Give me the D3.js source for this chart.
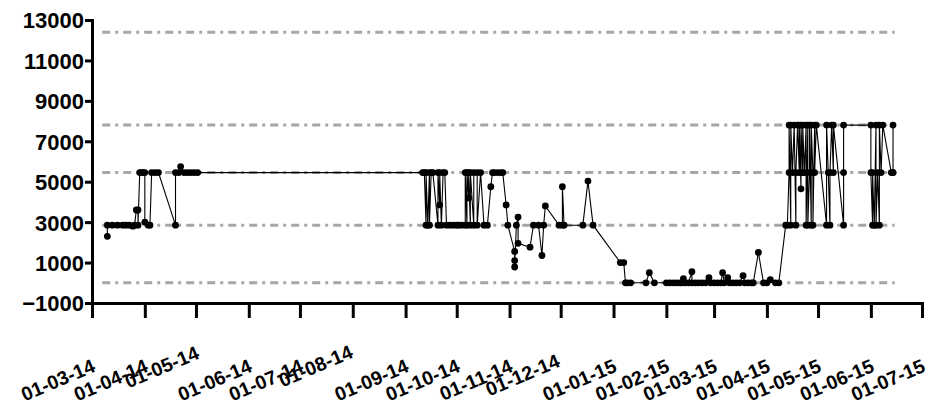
<!DOCTYPE html>
<html>
<head>
<meta charset="utf-8">
<script src="https://cdn.jsdelivr.net/npm/d3@7"></script>
<style>
  html, body { margin: 0; padding: 0; background: #fff; }
  svg { display: block; }
  text { font-family: "Liberation Sans", Arial, sans-serif; font-weight: bold; }
</style>
</head>
<body>
<svg id="chart" width="928" height="407"></svg>
<script>
// ---- data ----
const tickDates = ["2014-03-01","2014-04-01","2014-05-01","2014-06-01","2014-07-01","2014-08-01","2014-09-01","2014-10-01","2014-11-01","2014-12-01","2015-01-01","2015-02-01","2015-03-01","2015-04-01","2015-05-01","2015-06-01","2015-07-01"];
const tickLabels = ["01-03-14","01-04-14","01-05-14","01-06-14","01-07-14","01-08-14","01-09-14","01-10-14","01-11-14","01-12-14","01-01-15","01-02-15","01-03-15","01-04-15","01-05-15","01-06-15","01-07-15"];
const yTicks = [-1000, 1000, 3000, 5000, 7000, 9000, 11000, 13000];
const refValues = [12400, 7800, 5450, 2850, 0];
const refRange = ["2014-03-07", "2015-06-15"];

const dates = [
 "2014-03-10","2014-03-10","2014-03-13","2014-03-16","2014-03-19","2014-03-21","2014-03-23","2014-03-25","2014-03-26","2014-03-27",
 "2014-03-28","2014-03-28","2014-03-29","2014-03-30","2014-03-31","2014-04-01","2014-04-01","2014-04-03","2014-04-04","2014-04-05",
 "2014-04-07","2014-04-09","2014-04-19","2014-04-19","2014-04-21","2014-04-22","2014-04-24","2014-04-26","2014-04-28","2014-04-30",
 "2014-05-02",
 "2014-09-11","2014-09-12","2014-09-13","2014-09-13","2014-09-14","2014-09-15","2014-09-15","2014-09-16","2014-09-17","2014-09-20",
 "2014-09-20","2014-09-21","2014-09-21","2014-09-22","2014-09-23","2014-09-24","2014-09-25","2014-09-27","2014-09-29","2014-10-01",
 "2014-10-02","2014-10-04","2014-10-06","2014-10-06","2014-10-07","2014-10-07","2014-10-08","2014-10-08","2014-10-09","2014-10-09",
 "2014-10-11","2014-10-11","2014-10-13","2014-10-13","2014-10-15","2014-10-17","2014-10-19","2014-10-21","2014-10-22","2014-10-23",
 "2014-10-25","2014-10-27","2014-10-28","2014-10-30","2014-10-31","2014-11-04","2014-11-04","2014-11-04","2014-11-05","2014-11-06",
 "2014-11-06","2014-11-13","2014-11-15","2014-11-18","2014-11-20","2014-11-21","2014-11-22","2014-11-30","2014-12-02","2014-12-02",
 "2014-12-03","2014-12-14","2014-12-17","2014-12-20",
 "2015-01-05","2015-01-07","2015-01-08","2015-01-09","2015-01-11","2015-01-20","2015-01-22","2015-01-25","2015-02-01","2015-02-03",
 "2015-02-05","2015-02-07","2015-02-09","2015-02-10","2015-02-11","2015-02-12","2015-02-14","2015-02-16","2015-02-16","2015-02-18",
 "2015-02-20","2015-02-22","2015-02-24","2015-02-26","2015-02-27","2015-03-01","2015-03-03","2015-03-05","2015-03-06","2015-03-07",
 "2015-03-09","2015-03-10","2015-03-12","2015-03-14","2015-03-16","2015-03-18","2015-03-19","2015-03-21","2015-03-23","2015-03-24",
 "2015-03-27","2015-03-30","2015-04-01","2015-04-03","2015-04-06","2015-04-08",
 "2015-04-12","2015-04-13","2015-04-14","2015-04-14","2015-04-15","2015-04-15","2015-04-16","2015-04-17","2015-04-18","2015-04-18",
 "2015-04-19","2015-04-20","2015-04-20","2015-04-21","2015-04-21","2015-04-22","2015-04-22","2015-04-23","2015-04-24","2015-04-24",
 "2015-04-25","2015-04-25","2015-04-26","2015-04-26","2015-04-27","2015-04-27","2015-04-28","2015-04-28","2015-04-29","2015-04-29",
 "2015-04-30","2015-05-06","2015-05-06","2015-05-07","2015-05-08","2015-05-08","2015-05-09","2015-05-10","2015-05-10","2015-05-16",
 "2015-05-16","2015-05-16","2015-06-01","2015-06-01","2015-06-02","2015-06-02","2015-06-03","2015-06-04","2015-06-04","2015-06-05",
 "2015-06-06","2015-06-06","2015-06-07","2015-06-08","2015-06-13","2015-06-14","2015-06-14","2015-06-14"
];
const values = [
 2300,2850,2850,2850,2850,2850,2850,2800,2850,3600,
 3600,2850,5450,5450,5450,5450,3000,2850,2850,5450,
 5450,5450,2850,5450,5450,5750,5450,5450,5450,5450,
 5450,
 5450,5450,2850,5450,2850,5450,2850,5450,5450,2850,
 5450,3850,5450,2850,5450,5450,2850,2850,2850,2850,
 2850,2850,2850,5450,2850,5450,4200,5450,2850,5450,
 2850,5450,5450,2850,5450,2850,2850,4750,5450,5450,
 5450,5450,5450,3850,2850,1550,1100,780,2850,3250,
 1950,1760,2850,2850,1350,2850,3800,2850,2850,4750,
 2850,2850,5030,2850,
 1000,1000,0,0,0,0,500,0,0,0,
 0,0,0,0,200,0,0,550,0,0,
 0,0,0,250,0,0,0,0,500,0,
 250,0,0,0,0,350,0,0,0,0,
 1500,0,0,150,0,0,
 2850,2850,5450,7800,2850,7800,5450,7800,2850,5450,
 7800,5450,7800,4650,7800,5450,7800,5450,7800,2850,
 7800,2850,5450,7800,2850,7800,5450,2850,7800,5450,
 7800,2850,7800,5450,2850,5450,7800,5450,7800,2850,
 5450,7800,7800,5450,2850,5450,2850,7800,2850,5450,
 2850,7800,5450,7800,5450,5450,7800,5450
];

// ---- chart ----
const parse = d3.timeParse("%Y-%m-%d");
const svg = d3.select("#chart");
const plotLeft = 92, plotRight = 922, plotTop = 20, plotBottom = 303;

const x = d3.scaleTime()
  .domain([parse(tickDates[0]), parse(tickDates[tickDates.length - 1])])
  .range([plotLeft, plotRight]);
const y = d3.scaleLinear().domain([-1000, 13000]).range([plotBottom, plotTop]);

const data = dates.map((d, i) => ({ date: parse(d), value: values[i] }));

// reference lines
svg.append("g").selectAll("line")
  .data(refValues)
  .join("line")
  .attr("x1", x(parse(refRange[0])))
  .attr("x2", x(parse(refRange[1])))
  .attr("y1", d => y(d))
  .attr("y2", d => y(d))
  .attr("stroke", "#a6a6a6")
  .attr("stroke-width", 3)
  .attr("stroke-dasharray", "8,5,3,5");

// series line
svg.append("path")
  .datum(data)
  .attr("fill", "none")
  .attr("stroke", "#000")
  .attr("stroke-width", 1.1)
  .attr("d", d3.line().x(d => x(d.date)).y(d => y(d.value)));

// points
svg.append("g").selectAll("circle")
  .data(data)
  .join("circle")
  .attr("cx", d => x(d.date))
  .attr("cy", d => y(d.value))
  .attr("r", 3.4)
  .attr("fill", "#000");

// y axis
const gy = svg.append("g")
  .attr("transform", `translate(${plotLeft},0)`)
  .call(d3.axisLeft(y).tickValues(yTicks).tickSize(7).tickSizeOuter(0).tickFormat(d3.format("d")));
gy.select(".domain").attr("stroke-width", 3).attr("stroke-linecap", "square");
gy.selectAll(".tick line").attr("stroke-width", 3);
gy.selectAll(".tick text")
  .attr("x", -8)
  .attr("dy", "0.36em")
  .attr("font-size", 22)
  .attr("font-weight", "bold")
  .attr("fill", "#000");

// x axis (rotated labels; a few are nudged as in the original layout)
const labelNudge = { "01-05-14": [0, -13], "01-08-14": [-3, -14], "01-12-14": [-4, -5] };
const gx = svg.append("g")
  .attr("transform", `translate(0,${plotBottom})`)
  .call(d3.axisBottom(x).tickValues(tickDates.map(parse)).tickSize(15).tickSizeOuter(0)
    .tickFormat((d, i) => tickLabels[i]));
gx.select(".domain").attr("stroke-width", 3).attr("stroke-linecap", "square");
gx.selectAll(".tick line").attr("stroke-width", 3);
gx.selectAll(".tick text")
  .attr("x", 0).attr("y", 0).attr("dy", 0)
  .attr("text-anchor", "end")
  .attr("font-size", 19.5)
  .attr("font-weight", "bold")
  .attr("fill", "#000")
  .attr("transform", (d, i) => {
    const n = labelNudge[tickLabels[i]] || [0, 0];
    return `translate(${4 + n[0]},${68 + n[1]}) rotate(-23)`;
  });
</script>
</body>
</html>
